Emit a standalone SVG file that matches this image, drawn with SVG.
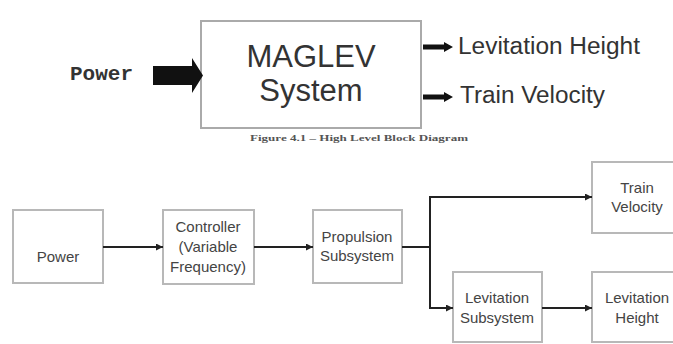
<svg xmlns="http://www.w3.org/2000/svg" width="673" height="344" viewBox="0 0 673 344">
<style>
.box{fill:#fff;stroke:#b8b8b8;stroke-width:2}
.big{fill:#fff;stroke:#aaa;stroke-width:2}
.t{font-family:"Liberation Sans",Arial,sans-serif;fill:#444;font-size:15px;text-anchor:middle}
.tt{font-family:"Liberation Sans",Arial,sans-serif;fill:#333}
.conn{fill:none;stroke:#222;stroke-width:2}
</style>
<defs>
<marker id="ah" viewBox="0 0 10 10" refX="10" refY="5" markerWidth="9" markerHeight="7" markerUnits="userSpaceOnUse" orient="auto">
<path d="M0,0 L10,5 L0,10 Z" fill="#222"/>
</marker>
</defs>
<rect width="673" height="344" fill="#fff"/>

<g id="top-power">
<text x="70" y="80" style="font-family:'Liberation Mono','Courier New',monospace;font-weight:bold;font-size:21px;fill:#333">Power</text>
</g>
<g id="maglev-system">
<rect class="big" x="201" y="21" width="220" height="107"/>
<text class="tt" x="311" y="67" font-size="31" text-anchor="middle">MAGLEV</text>
<text class="tt" x="311" y="101" font-size="31" text-anchor="middle">System</text>
</g>
<g id="top-lev-height">
<text class="tt" x="458" y="54" font-size="23" textLength="182" lengthAdjust="spacingAndGlyphs">Levitation Height</text>
</g>
<g id="top-train-velocity">
<text class="tt" x="460" y="103" font-size="23" textLength="145" lengthAdjust="spacingAndGlyphs">Train Velocity</text>
</g>
<g id="caption">
<text x="250" y="141" textLength="218" lengthAdjust="spacingAndGlyphs" style="font-family:'Liberation Serif','Times New Roman',serif;font-weight:bold;font-size:8px;fill:#555">Figure 4.1 – High Level Block Diagram</text>
</g>
<g id="top-connectors" fill="#111">
<polygon points="153,66 192,66 192,58 203,75.5 192,93 192,85 153,85"/>
<polygon points="423,44.5 444,44.5 444,42 453,47 444,52 444,49.5 423,49.5"/>
<polygon points="423,94.5 444,94.5 444,92 453,97 444,102 444,99.5 423,99.5"/>
</g>

<g id="power">
<rect class="box" x="13" y="210" width="90" height="73"/>
<text class="t" x="58" y="262">Power</text>
</g>
<g id="controller">
<rect class="box" x="163" y="210" width="91" height="74"/>
<text class="t" x="208" y="232">Controller</text>
<text class="t" x="208" y="252">(Variable</text>
<text class="t" x="208" y="272">Frequency)</text>
</g>
<g id="propulsion">
<rect class="box" x="313" y="210" width="89" height="73"/>
<text class="t" x="357" y="242">Propulsion</text>
<text class="t" x="357" y="261">Subsystem</text>
</g>
<g id="train-velocity">
<rect class="box" x="592" y="162" width="90" height="71"/>
<text class="t" x="637" y="193">Train</text>
<text class="t" x="637" y="212">Velocity</text>
</g>
<g id="levitation-subsystem">
<rect class="box" x="453" y="272" width="89" height="70"/>
<text class="t" x="497" y="303">Levitation</text>
<text class="t" x="497" y="323">Subsystem</text>
</g>
<g id="levitation-height">
<rect class="box" x="592" y="272" width="90" height="70"/>
<text class="t" x="637" y="303">Levitation</text>
<text class="t" x="637" y="323">Height</text>
</g>

<g id="connectors">
<path class="conn" d="M103,247 H163" marker-end="url(#ah)"/>
<path class="conn" d="M254,247 H313" marker-end="url(#ah)"/>
<path class="conn" d="M402,247 H430"/>
<path class="conn" d="M430,197 V308"/>
<path class="conn" d="M429,197 H592" marker-end="url(#ah)"/>
<path class="conn" d="M429,308 H453" marker-end="url(#ah)"/>
<path class="conn" d="M542,308 H592" marker-end="url(#ah)"/>
</g>
</svg>
